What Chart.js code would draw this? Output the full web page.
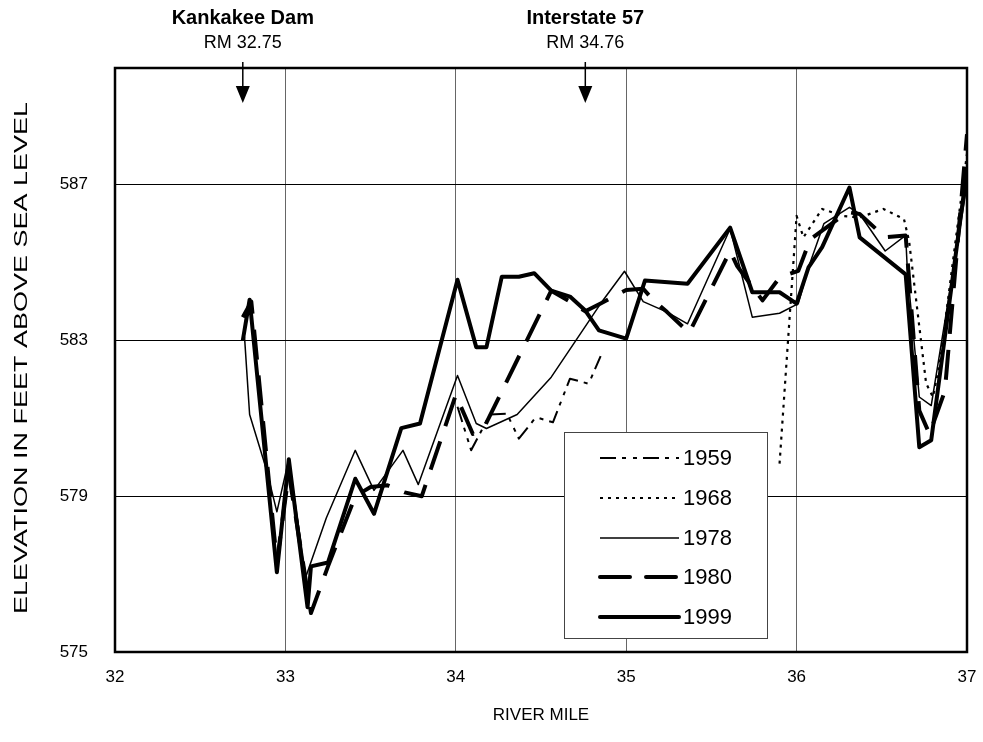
<!DOCTYPE html>
<html lang="en">
<head>
<meta charset="UTF-8">
<title>Kankakee River profile</title>
<script src="https://cdn.jsdelivr.net/npm/chart.js@4.4.1/dist/chart.umd.min.js"></script>
<style>
    body { margin: 0; background: #fff; }
    canvas { display: block; }
</style>
</head>
<body>
<canvas id="profile" width="983" height="742"></canvas>
<script>
    // thalweg survey points, river mile vs elevation (ft)
    const mile1959 = [34.01, 34.09, 34.2, 34.3, 34.37, 34.47, 34.57, 34.67, 34.78, 34.85];
    const elev1959 = [581.3, 580.18, 581.1, 581.12, 580.48, 581.03, 580.9, 582.02, 581.89, 582.6];

    const mile1968 = [35.9, 36.0, 36.04, 36.15, 36.27, 36.37, 36.51, 36.63, 36.66, 36.76, 36.8, 36.84, 36.94, 37.0];
    const elev1968 = [579.84, 586.2, 585.65, 586.38, 586.2, 586.16, 586.38, 586.12, 585.56, 581.9, 581.55, 582.4, 585.8, 587.8];

    const mile1978 = [32.76, 32.79, 32.89, 32.95, 33.02, 33.12, 33.24, 33.41, 33.52, 33.69, 33.78, 34.01, 34.12, 34.18, 34.36, 34.56, 34.85, 34.99,
                      35.1, 35.24, 35.36, 35.61, 35.74, 35.9, 36.01, 36.07, 36.16, 36.31, 36.37, 36.52, 36.64, 36.65, 36.72, 36.79, 37.0];
    const elev1978 = [583.1, 581.1, 579.67, 578.6, 579.95, 576.93, 578.44, 580.18, 579.15, 580.18, 579.3, 582.1, 580.87, 580.74, 581.1, 582.06, 583.95, 584.78,
                      584.0, 583.73, 583.43, 585.87, 583.6, 583.7, 583.95, 584.88, 586.0, 586.42, 586.25, 585.3, 585.7, 584.8, 581.55, 581.33, 587.0];

    const mile1980 = [32.75, 32.8, 32.95, 33.02, 33.15, 33.25, 33.41, 33.5, 33.6, 33.7, 33.8, 34.0, 34.1, 34.17, 34.56, 34.67, 34.76, 34.85, 35.0,
                      35.1, 35.15, 35.24, 35.37, 35.61, 35.65, 35.8, 35.9, 36.01, 36.08, 36.3, 36.37, 36.52, 36.64, 36.72, 36.78, 36.87, 37.0];
    const elev1980 = [583.6, 584.0, 577.3, 579.6, 576.0, 577.2, 579.0, 579.24, 579.28, 579.1, 579.0, 581.6, 580.6, 580.8, 584.28, 584.0, 583.75, 583.95, 584.3,
                      584.33, 584.08, 583.73, 583.2, 585.3, 584.92, 584.03, 584.62, 584.79, 585.6, 586.3, 586.25, 585.65, 585.7, 581.2, 580.6, 581.7, 588.3];

    const mile1999 = [32.75, 32.79, 32.95, 33.02, 33.13, 33.15, 33.25, 33.41, 33.52, 33.68, 33.79, 34.01, 34.12, 34.18, 34.27, 34.37, 34.46, 34.56,
                      34.67, 34.76, 34.84, 35.0, 35.11, 35.36, 35.61, 35.74, 35.9, 36.0, 36.07, 36.15, 36.31, 36.37, 36.64, 36.72, 36.79, 37.0];
    const elev1999 = [583.0, 584.05, 577.05, 579.95, 576.15, 577.2, 577.3, 579.45, 578.55, 580.75, 580.87, 584.56, 582.83, 582.83, 584.64, 584.64, 584.73, 584.28,
                      584.13, 583.77, 583.26, 583.05, 584.54, 584.46, 585.9, 584.24, 584.24, 583.95, 584.88, 585.4, 586.93, 585.65, 584.7, 580.26, 580.44, 587.4];

    const xTicks = [32, 33, 34, 35, 36, 37];
    const yTicks = [575, 579, 583, 587];

    const siteNames = ['Kankakee Dam', 'Interstate 57'];
    const siteMiles = [32.75, 34.76];

    const FONT = '"Liberation Sans", Arial, Helvetica, sans-serif';

    function points(miles, elevs) {
        return miles.map((m, i) => ({ x: m, y: elevs[i] }));
    }

    function series(label, miles, elevs, width, dash) {
        return {
            label: label,
            data: points(miles, elevs),
            showLine: true,
            borderColor: '#000',
            backgroundColor: '#000',
            borderWidth: width,
            borderDash: dash,
            borderJoinStyle: 'round',
            pointRadius: 0,
            tension: 0,
            fill: false
        };
    }

    const datasets = [
        series('1959', mile1959, elev1959, 2, [16, 6, 4, 7, 4, 6]),
        series('1968', mile1968, elev1968, 2.2, [3, 5]),
        series('1978', mile1978, elev1978, 1.5, []),
        series('1980', mile1980, elev1980, 4, [30, 16]),
        series('1999', mile1999, elev1999, 4, [])
    ];

    // frame, axis titles, site arrows and the boxed legend
    const decorations = {
        id: 'decorations',
        afterDraw(chart) {
            const { ctx, chartArea: a, scales: { x } } = chart;
            ctx.save();

            ctx.strokeStyle = '#000';
            ctx.lineWidth = 2.5;
            ctx.strokeRect(a.left, a.top, a.right - a.left, a.bottom - a.top);

            ctx.fillStyle = '#000';
            ctx.textAlign = 'center';
            ctx.textBaseline = 'middle';
            ctx.font = '17px ' + FONT;
            ctx.fillText('RIVER MILE', (a.left + a.right) / 2, 715);

            ctx.save();
            ctx.translate(22, 358);
            ctx.rotate(-Math.PI / 2);
            ctx.scale(1.5, 1);
            ctx.font = '18px ' + FONT;
            ctx.fillText('ELEVATION IN FEET ABOVE SEA LEVEL', 0, 0);
            ctx.restore();

            siteNames.forEach((name, i) => {
                const px = x.getPixelForValue(siteMiles[i]);
                ctx.font = 'bold 20px ' + FONT;
                ctx.fillText(name, px, 18);
                ctx.font = '18px ' + FONT;
                ctx.fillText('RM ' + siteMiles[i].toFixed(2), px, 43);
                ctx.lineWidth = 1.5;
                ctx.beginPath();
                ctx.moveTo(px, 62);
                ctx.lineTo(px, 90);
                ctx.stroke();
                ctx.beginPath();
                ctx.moveTo(px - 7, 86);
                ctx.lineTo(px + 7, 86);
                ctx.lineTo(px, 103);
                ctx.closePath();
                ctx.fill();
            });

            // legend box
            const box = { left: 564, top: 432, right: 767, bottom: 638 };
            ctx.fillStyle = '#fff';
            ctx.fillRect(box.left, box.top, box.right - box.left, box.bottom - box.top);
            ctx.strokeStyle = '#444';
            ctx.lineWidth = 1;
            ctx.strokeRect(box.left + 0.5, box.top + 0.5, box.right - box.left, box.bottom - box.top);

            const rows = [458, 498, 538, 577, 617];
            ctx.textAlign = 'left';
            ctx.font = '22px ' + FONT;
            datasets.forEach((ds, i) => {
                const yy = rows[i];
                ctx.strokeStyle = '#000';
                ctx.lineWidth = ds.borderWidth;
                ctx.setLineDash(ds.borderDash);
                ctx.lineCap = ds.borderWidth > 3 ? 'round' : 'butt';
                ctx.beginPath();
                ctx.moveTo(600, yy);
                ctx.lineTo(679, yy);
                ctx.stroke();
                ctx.setLineDash([]);
                ctx.fillStyle = '#000';
                ctx.fillText(ds.label, 683, yy + 1);
            });

            ctx.restore();
        }
    };

    new Chart(document.getElementById('profile'), {
        type: 'scatter',
        data: { datasets: datasets },
        options: {
            responsive: false,
            animation: false,
            devicePixelRatio: 1,
            layout: { padding: { left: 0, top: 68, right: 16, bottom: 0 } },
            plugins: {
                legend: { display: false },
                tooltip: { enabled: false }
            },
            scales: {
                x: {
                    type: 'linear',
                    min: 32,
                    max: 37,
                    afterFit: s => { s.height = 90; s.paddingLeft = 0; s.paddingRight = 0; },
                    afterBuildTicks: s => { s.ticks = xTicks.map(v => ({ value: v })); },
                    grid: { color: '#666', lineWidth: 1, drawTicks: false },
                    border: { display: false },
                    ticks: { color: '#000', padding: 15, font: { family: FONT, size: 17 } }
                },
                y: {
                    type: 'linear',
                    min: 575,
                    max: 590,
                    afterFit: s => { s.width = 115; s.paddingTop = 0; s.paddingBottom = 0; },
                    afterBuildTicks: s => { s.ticks = yTicks.map(v => ({ value: v })); },
                    grid: { color: '#000', lineWidth: 1, drawTicks: false },
                    border: { display: false },
                    ticks: { color: '#000', padding: 27, font: { family: FONT, size: 17 } }
                }
            }
        },
        plugins: [decorations]
    });
</script>
</body>
</html>
